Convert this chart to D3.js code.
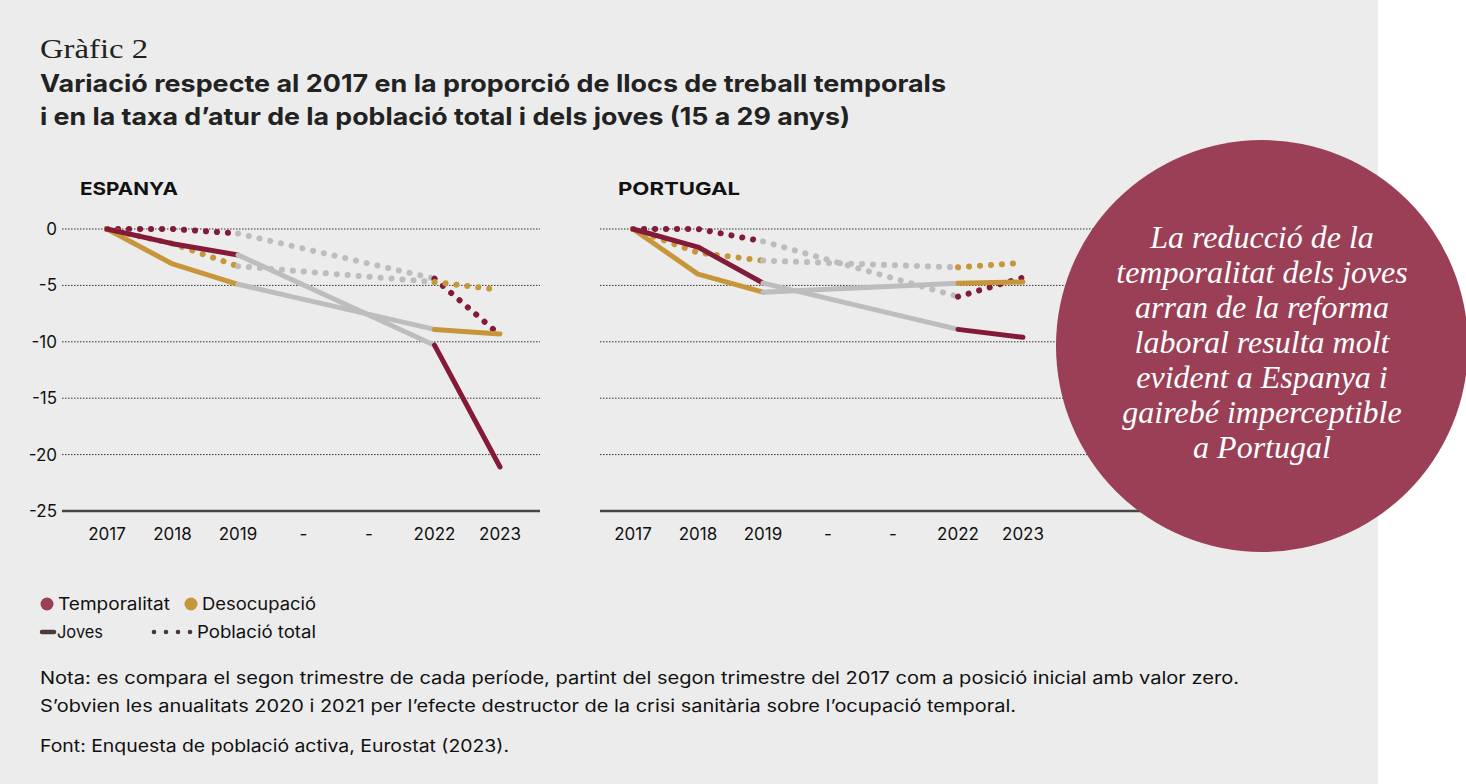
<!DOCTYPE html>
<html><head><meta charset="utf-8">
<script src="https://cdn.jsdelivr.net/npm/d3@7"></script>
<style>body{margin:0;background:#fff}svg{display:block}</style>
</head><body>
<svg id="c" width="1466" height="784"></svg>
<script>
// Categories (x) and values
const years = ["2017", "2018", "2019", "-", "--", "2022", "2023"];
const yTicks = [0, -5, -10, -15, -20, -25];
// Espanya: index 0,1,2 = 2017..2019, index 5,6 = 2022,2023
const esTempJoves = [0, -1.3, -2.3, null, null, -10.3, -21.1];
const esDesJoves = [0, -3.1, -4.9, null, null, -8.9, -9.3];
const esTempTotal = [0, 0, -0.4, null, null, -4.4, -9.4];
const esDesTotal = [0, -1.3, -3.3, null, null, -4.7, -5.4];
// Portugal
const ptTempJoves = [0, -1.6, -4.8, null, null, -8.9, -9.6];
const ptDesJoves = [0, -4.0, -5.6, null, null, -4.8, -4.7];
const ptTempTotal = [0, 0, -1.1, null, null, -6.0, -4.3];
const ptDesTotal = [0, -2.1, -2.8, null, null, -3.4, -3.0];

const cTemp = "#821a38", cDes = "#c8963a", cGap = "#bdbdbd";
const svg = d3.select("#c");
svg.append("rect").attr("width", 1378).attr("height", 784).attr("fill", "#ececec");

// text helper with fitted width
function txt(sel, x, y, t, size, w, opts = {}) {
  const e = sel.append("text").attr("x", x).attr("y", y).attr("font-family", opts.family || "Inter")
    .attr("font-size", size).attr("fill", opts.fill || "#111").text(t);
  if (opts.bold) e.attr("font-weight", "bold");
  if (w) e.attr("textLength", w).attr("lengthAdjust", "spacingAndGlyphs");
  return e;
}
txt(svg, 40, 58, "Gràfic 2", 27, 108, {family: "Liberation Serif", fill: "#222"});
txt(svg, 40, 92, "Variació respecte al 2017 en la proporció de llocs de treball temporals", 24, 906, {bold: true, fill: "#222"});
txt(svg, 40, 125, "i en la taxa d’atur de la població total i dels joves (15 a 29 anys)", 24, 810, {bold: true, fill: "#222"});

const y = d3.scaleLinear().domain([0, -25]).range([229, 511]);

function panel(x0, x1, gx0, gx1, title, tw, series, showY) {
  const x = d3.scalePoint().domain(years).range([x0, x1]);
  const g = svg.append("g");
  txt(g, gx0 + 18, 195, title, 18, tw, {bold: true});
  yTicks.slice(0, 5).forEach(t => g.append("line").attr("x1", gx0).attr("x2", gx1).attr("y1", y(t)).attr("y2", y(t))
    .attr("stroke", "#333").attr("stroke-width", 1).attr("stroke-dasharray", "1.5,1.5"));
  g.append("line").attr("x1", gx0).attr("x2", gx1).attr("y1", y(-25)).attr("y2", y(-25)).attr("stroke", "#444").attr("stroke-width", 2.5);
  if (showY) yTicks.forEach(t => g.append("text").attr("x", 57).attr("y", y(t) + 6).attr("text-anchor", "end")
    .attr("font-family", "Inter").attr("font-size", 17).attr("fill", "#111").text(t === 0 ? "0" : "-" + Math.abs(t)));
  years.forEach(yr => g.append("text").attr("x", x(yr)).attr("y", 540).attr("text-anchor", "middle")
    .attr("font-family", "Inter").attr("font-size", 17).attr("fill", "#111").text(yr.startsWith("-") ? "-" : yr));
  const line = d3.line().x(d => x(years[d[0]])).y(d => y(d[1]));
  series.forEach(s => {
    const pts = s.v.map((v, i) => [i, v]);
    const st = s.dotted ? {dash: "0.1,10.9", w: 6} : {dash: null, w: 5};
    const segs = [[pts.slice(0, 3), s.c], [[pts[2], pts[5]], cGap], [pts.slice(5), s.c]];
    segs.forEach(([p, col]) => g.append("path").attr("d", line(p)).attr("fill", "none").attr("stroke", col)
      .attr("stroke-width", st.w).attr("stroke-linecap", "round").attr("stroke-linejoin", "round")
      .attr("stroke-dasharray", st.dash));
  });
}
const order = (tj, dj, tt, dt) => [
  {v: tt, c: cTemp, dotted: true}, {v: dt, c: cDes, dotted: true},
  {v: dj, c: cDes}, {v: tj, c: cTemp}];
panel(107, 500, 62, 540, "ESPANYA", 98, order(esTempJoves, esDesJoves, esTempTotal, esDesTotal), true);
panel(633, 1023, 600, 1160, "PORTUGAL", 122, order(ptTempJoves, ptDesJoves, ptTempTotal, ptDesTotal), false);

// callout circle
svg.append("circle").attr("cx", 1262).attr("cy", 346).attr("r", 206).attr("fill", "#9a3f56");
const callout = ["La reducció de la", "temporalitat dels joves", "arran de la reforma", "laboral resulta molt", "evident a Espanya i", "gairebé imperceptible", "a Portugal"];
callout.forEach((t, i) =>
  svg.append("text").attr("x", 1262).attr("y", 248 + i * 35).attr("text-anchor", "middle").attr("font-family", "Liberation Serif")
    .attr("font-style", "italic").attr("font-size", 32).attr("fill", "#fff").text(t));

// legend
const lg = svg.append("g");
lg.append("circle").attr("cx", 47).attr("cy", 604).attr("r", 6.5).attr("fill", "#9a3f56");
txt(lg, 58, 610, "Temporalitat", 17, 112);
lg.append("circle").attr("cx", 191).attr("cy", 604).attr("r", 6.5).attr("fill", cDes);
txt(lg, 202, 610, "Desocupació", 17, 114);
lg.append("line").attr("x1", 42).attr("x2", 54).attr("y1", 632).attr("y2", 632).attr("stroke", "#4a3a36").attr("stroke-width", 4.5).attr("stroke-linecap", "round");
txt(lg, 57, 638, "Joves", 17, 46);
[154, 166, 178, 190].forEach(cx => lg.append("circle").attr("cx", cx).attr("cy", 632).attr("r", 2.3).attr("fill", "#4a3a36"));
txt(lg, 197, 638, "Població total", 17, 119);

txt(svg, 40, 684, "Nota: es compara el segon trimestre de cada període, partint del segon trimestre del 2017 com a posició inicial amb valor zero.", 17, 1199);
txt(svg, 40, 712, "S’obvien les anualitats 2020 i 2021 per l’efecte destructor de la crisi sanitària sobre l’ocupació temporal.", 17, 976);
txt(svg, 40, 752, "Font: Enquesta de població activa, Eurostat (2023).", 17, 469);
</script>
</body></html>
